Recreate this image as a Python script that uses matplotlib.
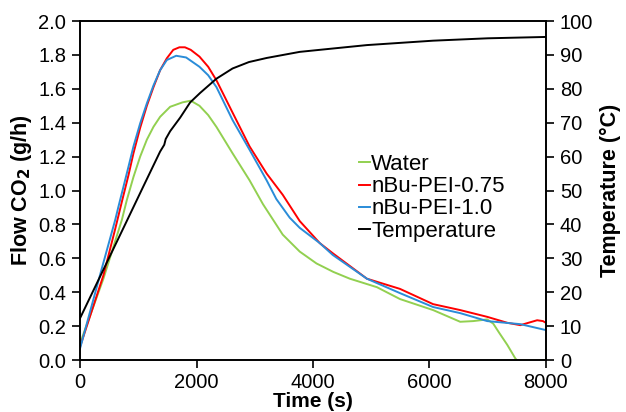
import matplotlib
matplotlib.use("Agg")
import matplotlib.pyplot as plt

plt.rcParams['font.family'] = ['Liberation Sans', 'DejaVu Sans']

# flow CO2 (g/h) vs time (s)
t_water = [0, 400, 716, 802, 916, 1031, 1146, 1260, 1374, 1546, 1757, 1900, 2050, 2200,
           2342, 2618, 2911, 3140, 3480, 3772, 4060, 4350, 4633, 5098, 5494, 6063, 6528,
           6752, 6993, 7096, 7200, 7337, 7475, 7500, 8000]
water = [0.10, 0.48, 0.826, 0.944, 1.08, 1.20, 1.30, 1.376, 1.435, 1.494, 1.52, 1.53, 1.50,
         1.445, 1.375, 1.22, 1.06, 0.92, 0.74, 0.64, 0.57, 0.52, 0.48, 0.43, 0.36, 0.295,
         0.226, 0.23, 0.24, 0.215, 0.16, 0.09, 0.01, 0.0, 0.0]

t_075 = [0, 400, 600, 724, 830, 916, 1031, 1146, 1260, 1374, 1489, 1600, 1705, 1800, 1900,
         2050, 2200, 2342, 2618, 2911, 3204, 3480, 3772, 4116, 4340, 4926, 5494, 6063, 6528,
         6993, 7337, 7561, 7700, 7850, 7950, 8000]
pei_075 = [0.08, 0.50, 0.77, 0.944, 1.09, 1.22, 1.37, 1.50, 1.61, 1.71, 1.78, 1.83, 1.845,
           1.845, 1.83, 1.79, 1.73, 1.65, 1.46, 1.26, 1.10, 0.975, 0.82, 0.69, 0.63, 0.48,
           0.42, 0.33, 0.295, 0.255, 0.22, 0.206, 0.22, 0.235, 0.23, 0.22]

t_10 = [0, 380, 602, 658, 744, 830, 916, 1031, 1146, 1260, 1374, 1489, 1650, 1820, 2050,
        2200, 2342, 2618, 2911, 3204, 3370, 3600, 3772, 4116, 4340, 4926, 5494, 6063, 6528,
        6993, 7561, 8000]
pei_10 = [0.07, 0.55, 0.826, 0.905, 1.022, 1.14, 1.26, 1.396, 1.514, 1.62, 1.71, 1.77,
          1.795, 1.785, 1.73, 1.68, 1.61, 1.416, 1.24, 1.06, 0.95, 0.84, 0.78, 0.69, 0.62,
          0.48, 0.395, 0.313, 0.277, 0.23, 0.212, 0.177]

# temperature (°C)
t_temp = [0, 773, 1088, 1374, 1445, 1470, 1546, 1718, 1890, 2062, 2342, 2618, 2900, 3204,
          3772, 4116, 4926, 6063, 7000, 8000]
temp = [12.4, 40.0, 51.3, 61.5, 63.5, 65.2, 67.5, 71.5, 76.0, 78.8, 83.0, 86.0, 87.9, 89.1,
        90.9, 91.5, 92.9, 94.2, 94.9, 95.3]

fig, ax = plt.subplots(figsize=(6.26, 4.12), dpi=100)
fig.subplots_adjust(left=0.128, right=0.872, top=0.949, bottom=0.126)

l1, = ax.plot(t_water, water, color='#92D050', lw=1.4, label='Water')
l2, = ax.plot(t_075, pei_075, color='#FF0000', lw=1.4, label='nBu-PEI-0.75')
l3, = ax.plot(t_10, pei_10, color='#2A8CD8', lw=1.4, label='nBu-PEI-1.0')

ax2 = ax.twinx()
l4, = ax2.plot(t_temp, temp, color='black', lw=1.4, label='Temperature')

ax.set_xlim(0, 8000)
ax.set_ylim(0, 2.0)
ax2.set_ylim(0, 100)
ax.set_xticks([0, 2000, 4000, 6000, 8000])
ax.set_yticks([0.0, 0.2, 0.4, 0.6, 0.8, 1.0, 1.2, 1.4, 1.6, 1.8, 2.0])
ax.set_yticklabels(['%.1f' % v for v in ax.get_yticks()])
ax2.set_yticks(range(0, 101, 10))

for a in (ax, ax2):
    a.tick_params(labelsize=14.5, length=6, width=1.2, direction='out', pad=4)
    for s in a.spines.values():
        s.set_linewidth(1.2)
ax.tick_params(axis='x', pad=3)

ax.set_xlabel('Time (s)', fontsize=15, fontweight='bold', labelpad=0)
ax.set_ylabel('Flow CO$_\\mathbf{2}$ (g/h)', fontsize=15.5, fontweight='bold', labelpad=3)
ax2.set_ylabel('Temperature (°C)', fontsize=15.5, fontweight='bold', labelpad=5)

ax2.legend(handles=[l1, l2, l3, l4], loc='upper left', bbox_to_anchor=(0.575, 0.64),
           frameon=False, fontsize=16, handlelength=0.5, handletextpad=0.05,
           labelspacing=0.05, borderpad=0)

fig.savefig('out.png', dpi=100)
